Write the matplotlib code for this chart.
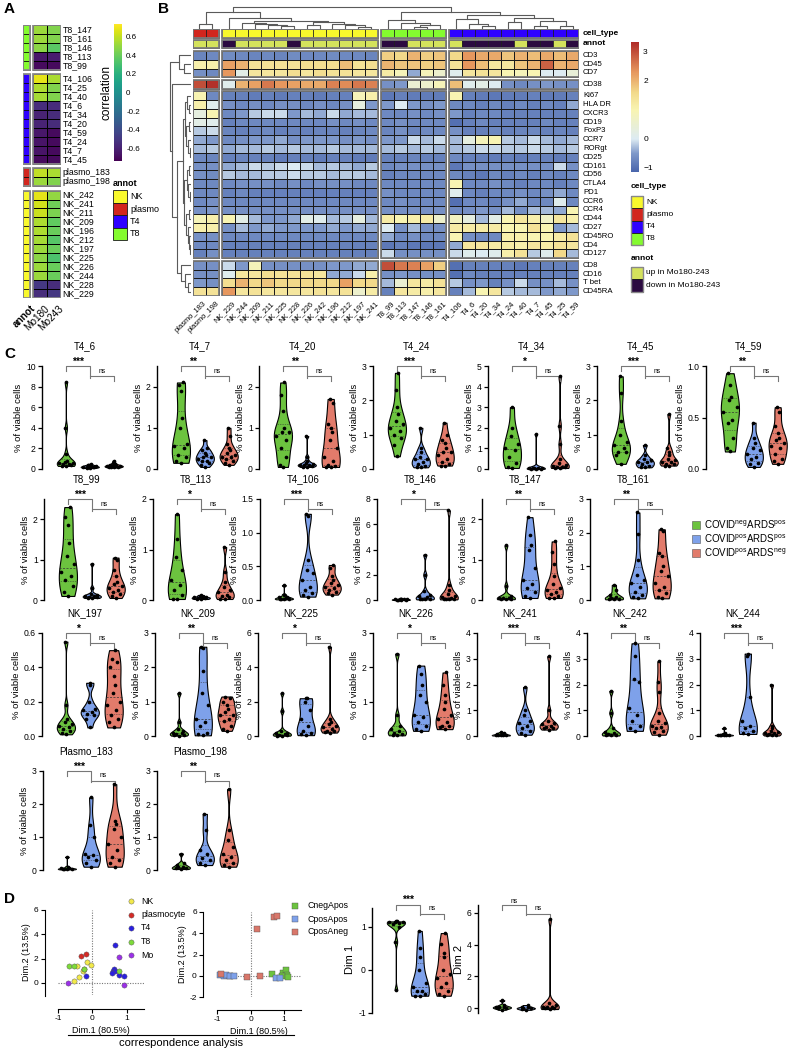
import numpy as np
import matplotlib
matplotlib.use("Agg")
import matplotlib.pyplot as plt
from matplotlib.colors import LinearSegmentedColormap
from matplotlib.patches import Rectangle

plt.rcParams['font.family'] = ['Liberation Sans', 'DejaVu Sans']

# ---------------- DATA ----------------
# Panel A
A_groups = [
    ['T8_147', 'T8_161', 'T8_146', 'T8_113', 'T8_99'],
    ['T4_106', 'T4_25', 'T4_40', 'T4_6', 'T4_34', 'T4_20', 'T4_59', 'T4_24', 'T4_7', 'T4_45'],
    ['plasmo_183', 'plasmo_198'],
    ['NK_242', 'NK_241', 'NK_211', 'NK_209', 'NK_196', 'NK_212', 'NK_197', 'NK_225', 'NK_226',
     'NK_244', 'NK_228', 'NK_229']]
A_group_type = ['T8', 'T4', 'plasmo', 'NK']
corr_mo180 = [0.52, 0.52, 0.48, -0.65, -0.70,
              0.68, 0.56, 0.54, -0.55, -0.60, -0.60, -0.65, -0.66, -0.66, -0.70,
              0.60, 0.52,
              0.68, 0.64, 0.62, 0.56, 0.56, 0.54, 0.52, 0.48, 0.52, 0.52, -0.50, -0.55]
corr_mo243 = [0.46, 0.46, 0.36, -0.62, -0.70,
              0.55, 0.46, 0.46, -0.55, -0.56, -0.56, -0.70, -0.70, -0.70, -0.70,
              0.55, 0.46,
              0.50, 0.42, 0.45, 0.38, 0.40, 0.35, 0.40, 0.32, 0.40, 0.40, -0.55, -0.50]
celltype_colors = {'NK': '#F8F82C', 'plasmo': '#D2261E', 'T4': '#2E00FF', 'T8': '#84FB2F'}
annot_colors = {'up': '#D4E25C', 'down': '#2B0A40'}

# Panel B
B_col_groups = [
    ['plasmo_183', 'plasmo_198'],
    ['NK_229', 'NK_244', 'NK_209', 'NK_211', 'NK_225', 'NK_228', 'NK_226', 'NK_242', 'NK_196',
     'NK_212', 'NK_197', 'NK_241'],
    ['T8_99', 'T8_113', 'T8_147', 'T8_146', 'T8_161'],
    ['T4_106', 'T4_6', 'T4_20', 'T4_34', 'T4_24', 'T4_40', 'T4_7', 'T4_45', 'T4_25', 'T4_59']]
B_col_types = ['plasmo', 'NK', 'T8', 'T4']
B_row_groups = [
    ['CD3', 'CD45', 'CD7'],
    ['CD38'],
    ['Ki67', 'HLA DR', 'CXCR3', 'CD19', 'FoxP3', 'CCR7', 'RORgt', 'CD25', 'CD161', 'CD56',
     'CTLA4', 'PD1', 'CCR6', 'CCR4', 'CD44', 'CD27', 'CD45RO', 'CD4', 'CD127'],
    ['CD8', 'CD16', 'T bet', 'CD45RA']]
expr_g1 = [
    [-0.75, -0.70, -0.65, -0.70, -0.75, -0.70, -0.75, -0.65, -0.70, -0.70, -0.65, -0.70, -0.70, -0.75, 1.70, 1.60, 2.00, 1.70, 1.80, 1.60, 2.30, 2.10, 2.10, 1.80, 2.00, 1.90, 2.10, 1.90, 2.10],
    [1.10, 1.10, 2.20, 2.00, 1.40, 1.40, 1.40, 1.40, 1.50, 1.50, 1.50, 1.90, 1.40, 1.50, 2.00, 1.80, 1.80, 1.70, 1.80, 1.40, 2.30, 1.90, 1.30, 1.30, 1.80, 2.00, 2.80, 2.00, 2.10],
    [-0.60, -0.70, 2.30, 0.20, 1.30, 1.30, 1.30, 1.50, 1.30, 1.50, 1.40, 1.40, 1.30, 1.30, 1.20, 0.90, -0.40, 0.90, 0.60, 0.10, 1.30, 1.40, 1.30, 1.00, 0.90, 1.00, 0.00, 0.00, 0.40]]
expr_cd38 = [
    [3.00, 3.30, 0.10, 2.00, 2.20, 2.60, 2.30, 2.20, 2.10, 2.10, 2.50, 2.40, 2.60, 2.50, -0.60, -0.50, 0.50, 0.60, 0.90, 1.90, 0.10, 0.20, 0.00, -0.60, -0.70, -0.60, -0.50, -0.60, -0.60]]
expr_g3 = [
    [1.00, -0.70, -0.80, -0.80, -0.85, -0.80, -0.85, -0.80, -0.80, -0.85, -0.80, -0.80, 0.90, 1.10, -0.90, -0.80, -0.85, -0.85, -0.85, 1.00, -0.80, -0.85, -0.90, -0.85, -0.85, -0.80, -0.85, -0.85, -0.80],
    [1.10, 0.10, -0.60, -0.70, -0.60, -0.70, -0.60, -0.60, -0.70, -0.60, -0.70, -0.60, 0.30, -0.50, -0.50, 0.00, -0.50, -0.60, -0.50, -0.70, -0.70, -0.80, -0.70, -0.80, -0.70, -0.80, -0.70, -0.80, -0.40],
    [0.30, 1.00, -0.70, -0.50, -0.20, -0.10, -0.10, -0.50, -0.30, -0.40, -0.10, -0.40, -0.30, -0.30, -0.70, -0.70, -0.60, -0.70, -0.60, -0.50, -0.80, -0.70, -0.70, -0.80, -0.80, -0.80, -0.80, -0.80, -0.80],
    [0.20, 0.10, -0.80, -0.70, -0.70, -0.70, -0.70, -0.70, -0.70, -0.70, -0.60, -0.70, -0.60, -0.70, -0.70, -0.60, -0.70, -0.70, -0.70, -1.00, -0.80, -0.70, -0.80, -0.80, -0.80, -0.80, -0.70, -0.80, -0.80],
    [-0.20, -0.10, -0.75, -0.80, -0.75, -0.70, -0.80, -0.75, -0.80, -0.75, -0.75, -0.80, -0.75, -0.70, -0.75, -0.60, -0.75, -0.70, -0.70, -0.60, -0.80, -0.80, -0.70, -0.80, -0.75, -0.70, -0.80, -0.75, -0.80],
    [-0.40, -0.50, -0.70, -0.60, -0.50, -0.50, -0.40, -0.60, -0.50, -0.50, -0.50, -0.60, -0.50, -0.60, -0.50, -0.50, -0.10, -0.30, -0.10, -0.30, 0.30, 0.90, 1.00, -0.20, -0.30, -0.10, -0.30, -0.40, -0.30],
    [-0.30, -0.20, -0.40, -0.30, -0.30, -0.20, -0.30, -0.20, -0.30, -0.30, -0.20, -0.30, -0.30, -0.30, -0.30, -0.20, -0.30, -0.20, -0.30, -0.30, -0.20, -0.10, -0.10, -0.20, -0.20, -0.10, -0.20, -0.30, -0.20],
    [-0.70, -0.75, -0.80, -0.75, -0.80, -0.80, -0.85, -0.80, -0.80, -0.85, -0.80, -0.80, -0.85, -0.85, -0.80, -0.80, -0.75, -0.80, -0.80, -0.70, -0.80, -0.80, -0.85, -0.80, -0.85, -0.80, -0.80, -0.85, -0.80],
    [-0.60, -0.60, -0.40, -0.30, -0.10, -0.20, -0.10, 0.00, -0.10, -0.30, -0.20, -0.30, -0.40, -0.20, -0.70, -0.60, -0.60, -0.60, -0.60, -0.90, -0.60, -0.60, -0.60, -0.60, -0.60, -0.60, -0.60, -0.10, -0.60],
    [-0.60, -0.65, -0.20, -0.30, -0.30, -0.20, -0.20, -0.10, -0.20, -0.20, -0.30, -0.20, -0.20, -0.30, -0.80, -0.70, -0.70, -0.70, -0.70, -0.70, -0.80, -0.90, -0.70, -0.80, -0.70, -0.80, -0.70, -0.80, -0.70],
    [-0.70, -0.70, -0.70, -0.60, -0.60, -0.60, -0.70, -0.60, -0.70, -0.60, -0.60, -0.60, -0.70, -0.70, -0.70, -0.70, -0.70, -0.70, -0.70, 1.00, -0.70, -0.70, -0.60, -0.70, -0.80, -0.70, -0.70, -0.80, -0.70],
    [-0.70, -0.70, -0.80, -0.70, -0.80, -0.80, -0.80, -0.80, -0.80, -0.80, -0.80, -0.80, -0.80, -0.80, -0.60, -0.70, -0.70, -0.70, -0.70, 0.10, -0.70, -0.80, -0.70, -0.70, -0.60, -0.70, -0.60, -0.40, -0.70],
    [-0.70, -0.60, -0.70, -0.70, -0.70, -0.70, -0.70, -0.70, -0.70, -0.70, -0.70, -0.70, -0.70, -0.70, -0.70, -0.60, -0.70, -0.70, -0.70, -1.00, -0.70, -0.70, -0.80, -0.60, -0.40, -0.70, -0.70, 0.10, -0.70],
    [-0.60, -0.50, -0.60, -0.60, -0.60, -0.60, -0.60, -0.60, -0.60, -0.60, -0.60, -0.60, -0.60, -0.60, -0.60, -0.60, -0.60, -0.60, -0.60, -0.70, -0.60, -0.50, -0.60, -0.30, -0.60, -0.30, -0.30, -0.40, 1.00],
    [0.90, 1.10, 1.00, 0.20, -0.30, -0.50, -0.50, -0.40, 0.20, 0.10, -0.30, -0.20, 0.30, -0.30, 1.20, 1.00, 1.10, 1.20, 0.60, 0.80, 0.30, -0.30, 0.20, 1.00, 1.30, 1.10, 0.70, 1.30, 1.10],
    [1.10, 1.10, -0.60, -0.30, -0.50, -0.40, -0.50, -0.50, -0.50, -0.50, -0.40, -0.50, -0.40, -0.40, 0.00, -0.60, -0.30, -0.60, -0.60, 1.20, 1.20, 1.20, 1.20, 1.00, 1.00, 1.40, 1.00, -0.50, -0.30],
    [-0.60, -0.60, -0.70, -0.70, -0.70, -0.70, -0.70, -0.70, -0.70, -0.70, -0.70, -0.70, -0.70, -0.70, -0.40, -0.70, -0.60, -0.70, -0.70, 1.00, -0.60, -0.70, -0.70, 1.10, 1.10, 1.00, 1.00, 1.20, 1.40],
    [-0.70, -0.70, -0.80, -0.80, -0.80, -0.80, -0.80, -0.80, -0.80, -0.80, -0.80, -0.80, -0.80, -0.80, -0.90, -0.80, -0.90, -0.90, -0.90, -0.40, 1.30, 1.30, 1.20, 1.20, 1.10, 1.30, 1.20, 1.40, 1.30],
    [-0.80, -0.60, -0.80, -0.80, -0.80, -0.80, -0.80, -0.80, -0.80, -0.80, -0.80, -0.80, -0.80, -0.80, -0.10, -0.60, -0.60, -0.60, -0.60, -0.10, 0.10, 0.00, 0.10, 1.10, 1.40, -0.20, 0.10, 1.60, -0.30]]
expr_g4 = [
    [-0.60, -0.60, -0.10, -0.50, 0.90, -0.60, -0.60, -0.60, -0.60, -0.60, -0.50, -0.50, -0.40, -0.40, 3.00, 2.60, 2.50, 2.20, 1.70, -1.00, -0.80, -0.80, -0.80, -0.80, -0.90, -0.80, -0.80, -0.80, -0.80],
    [-0.60, -0.60, 0.10, 1.30, 1.30, 1.50, 1.40, 1.40, 1.40, 1.30, -0.40, -0.40, -0.10, 1.10, -0.60, -0.50, -0.60, -0.60, -0.60, -1.00, -0.70, -0.80, -0.80, -0.80, -0.80, -0.80, -0.80, -0.80, -0.80],
    [-0.50, -0.60, 1.50, 2.00, 1.60, 1.80, 1.60, 1.60, 1.60, 1.60, 1.60, 2.20, 1.60, 1.60, -0.30, 0.50, 1.30, 1.20, 1.40, -0.20, -0.60, -0.50, -0.80, -0.60, -0.10, -0.60, -0.60, -0.30, -0.60],
    [1.40, 1.40, 2.30, 1.30, 1.40, 1.30, 1.30, 1.30, 1.30, 1.40, 1.30, 1.40, 0.60, 1.20, -0.80, 1.30, 1.20, 1.10, 1.30, -0.80, -0.30, 1.00, 1.30, -0.20, -0.30, -0.30, -0.50, -0.40, -0.50]]

# dendrograms: (height, left, right); leaves are column / row indices
col_tree = (22, (17, (5, 0, 1),
                 (11, 2, (8, (6, 3, (5, 4, (4, 5, (3, 6, 7)))),
                          (7, (4, 8, 9), (5, 10, (4, 11, (2.5, 12, 13))))))),
            (17, (9, 14, (6, 15, (4, (2.5, 16, 17), 18))),
             (14, (10, 19, (5, 20, (3, 21, 22))),
              (11, (7, 23, 24), (8, (3, 25, 26), (3, 27, 28))))))
row_tree = (21, (12, 0, (7, 1, 2)),
            (19, 3, (14,
                     (8, (6, (4, 4, (2, 5, 6)), (5, (2, 7, 8), (3, 9, (1.5, 10, 11)))),
                      (7, (4, (2, 12, 13), (3, 14, (1, 15, 16))),
                       (5, (2, 17, 18), (3, 19, (2, 20, (1, 21, 22)))))),
                     (10, 23, (6, 24, (3, 25, 26))))))

# Panel C
C_rows = [['T4_6', 'T4_7', 'T4_20', 'T4_24', 'T4_34', 'T4_45', 'T4_59'],
          ['T8_99', 'T8_113', 'T4_106', 'T8_146', 'T8_147', 'T8_161'],
          ['NK_197', 'NK_209', 'NK_225', 'NK_226', 'NK_241', 'NK_242', 'NK_244'],
          ['Plasmo_183', 'Plasmo_198']]
C_ymax = {'T4_6': 10, 'T4_7': 2.5, 'T4_20': 2.5, 'T4_24': 3, 'T4_34': 5, 'T4_45': 3, 'T4_59': 1.0,
          'T8_99': 2.5, 'T8_113': 2, 'T4_106': 1.5, 'T8_146': 8, 'T8_147': 2.5, 'T8_161': 3,
          'NK_197': 0.6, 'NK_209': 3, 'NK_225': 6, 'NK_226': 3, 'NK_241': 4, 'NK_242': 4, 'NK_244': 4,
          'Plasmo_183': 3, 'Plasmo_198': 3}
C_ticks = {'T4_6': [0, 2, 4, 6, 8, 10], 'T4_7': [0, 1, 2], 'T4_20': [0, 1, 2], 'T4_24': [0, 1, 2, 3],
           'T4_34': [0, 1, 2, 3, 4, 5], 'T4_45': [0, 1, 2, 3], 'T4_59': [0.0, 0.5, 1.0],
           'T8_99': [0, 1, 2], 'T8_113': [0, 1, 2], 'T4_106': [0.0, 0.5, 1.0, 1.5],
           'T8_146': [0, 2, 4, 6, 8], 'T8_147': [0, 1, 2], 'T8_161': [0, 1, 2, 3],
           'NK_197': [0.0, 0.2, 0.4, 0.6], 'NK_209': [0, 1, 2, 3], 'NK_225': [0, 2, 4, 6],
           'NK_226': [0, 1, 2, 3], 'NK_241': [0, 1, 2, 3, 4], 'NK_242': [0, 1, 2, 3, 4],
           'NK_244': [0, 1, 2, 3, 4], 'Plasmo_183': [0, 1, 2, 3], 'Plasmo_198': [0, 1, 2, 3]}
C_sig = {'T4_6': '***', 'T4_7': '**', 'T4_20': '**', 'T4_24': '***', 'T4_34': '*', 'T4_45': '***',
         'T4_59': '**', 'T8_99': '***', 'T8_113': '*', 'T4_106': '***', 'T8_146': '*', 'T8_147': '**',
         'T8_161': '**', 'NK_197': '*', 'NK_209': '**', 'NK_225': '*', 'NK_226': '*', 'NK_241': '***',
         'NK_242': '**', 'NK_244': '***', 'Plasmo_183': '***', 'Plasmo_198': '**'}
covid_neg_ards_pos = {
    'T4_6': [8.4, 4.0, 1.5, 0.8, 0.6, 0.5, 0.5, 0.4, 0.3, 0.3, 0.6, 0.7],
    'T4_7': [2.1, 2.05, 1.9, 1.25, 1.0, 0.6, 0.5, 0.35, 0.2, 0.15, 0.3, 0.55],
    'T4_20': [2.1, 1.8, 1.4, 1.0, 0.9, 0.8, 0.7, 0.5, 0.3, 0.1, 0.05, 0.9],
    'T4_24': [2.8, 2.3, 1.8, 1.6, 1.4, 1.3, 1.2, 1.1, 1.0, 0.9, 0.7, 0.37],
    'T4_34': [3.0, 2.0, 1.6, 1.2, 1.0, 0.9, 0.6, 0.3, 0.1, 0.05],
    'T4_45': [2.7, 2.2, 1.4, 1.0, 0.8, 0.7, 0.6, 0.5, 0.5, 0.4, 0.15],
    'T4_59': [0.93, 0.82, 0.7, 0.67, 0.6, 0.55, 0.48, 0.45, 0.3, 0.2, 0.17],
    'T8_99': [2.3, 2.05, 1.85, 1.4, 1.1, 0.9, 0.7, 0.6, 0.5, 0.35, 0.1, 0.2],
    'T8_113': [1.7, 1.2, 0.85, 0.6, 0.4, 0.3, 0.2, 0.1, 0.02, 0.02],
    'T4_106': [0.22, 0.08, 0.05, 0.03, 0.02, 0.02, 0.01, 0.01, 0.04],
    'T8_146': [0.08, 0.06, 0.05, 0.04, 0.03, 0.03, 0.02, 0.02, 0.05, 0.1],
    'T8_147': [1.35, 0.35, 0.1, 0.05, 0.05, 0.03, 0.02, 0.02, 0.04],
    'T8_161': [0.45, 0.3, 0.15, 0.1, 0.05, 0.03, 0.02, 0.02],
    'NK_197': [0.55, 0.18, 0.1, 0.08, 0.06, 0.05, 0.04, 0.03, 0.02, 0.01, 0.07],
    'NK_209': [1.25, 0.4, 0.2, 0.15, 0.1, 0.08, 0.05, 0.03, 0.01, 0.02],
    'NK_225': [2.5, 1.45, 0.3, 0.2, 0.15, 0.1, 0.05, 0.02, 0.02, 0.05],
    'NK_226': [2.4, 0.6, 0.3, 0.2, 0.15, 0.1, 0.05, 0.02, 0.02],
    'NK_241': [0.15, 0.1, 0.08, 0.05, 0.03, 0.02, 0.02, 0.04],
    'NK_242': [1.75, 0.9, 0.3, 0.15, 0.1, 0.08, 0.05, 0.03, 0.02],
    'NK_244': [0.3, 0.1, 0.05, 0.05, 0.03, 0.02, 0.02, 0.04],
    'Plasmo_183': [0.4, 0.1, 0.05, 0.05, 0.03, 0.02, 0.02, 0.04],
    'Plasmo_198': [0.5, 0.2, 0.15, 0.1, 0.08, 0.05, 0.05, 0.03]}
covid_pos_ards_pos = {
    'T4_6': [0.1, 0.2, 0.3, 0.4, 0.5, 0.2, 0.1, 0.3, 0.2, 0.15, 0.35, 0.25],
    'T4_7': [0.7, 0.5, 0.4, 0.35, 0.3, 0.25, 0.2, 0.15, 0.1, 0.05, 0.3, 0.2, 0.45],
    'T4_20': [0.8, 0.3, 0.2, 0.15, 0.1, 0.1, 0.08, 0.05, 0.05, 0.1, 0.12],
    'T4_24': [1.2, 0.6, 0.5, 0.35, 0.3, 0.2, 0.15, 0.1, 0.05, 0.05, 0.3],
    'T4_34': [1.7, 0.05, 0.05, 0.02, 0.02, 0.05, 0.03, 0.01, 0.04],
    'T4_45': [0.7, 0.4, 0.3, 0.25, 0.2, 0.15, 0.1, 0.05, 0.05, 0.2],
    'T4_59': [0.45, 0.3, 0.25, 0.2, 0.15, 0.12, 0.1, 0.06, 0.05, 0.02, 0.18],
    'T8_99': [0.9, 0.3, 0.15, 0.1, 0.08, 0.05, 0.05, 0.1, 0.12, 0.07],
    'T8_113': [0.1, 0.08, 0.05, 0.05, 0.03, 0.02, 0.02, 0.06, 0.04],
    'T4_106': [1.28, 1.25, 0.6, 0.45, 0.4, 0.3, 0.2, 0.15, 0.1, 0.05, 0.08],
    'T8_146': [3.6, 2.0, 0.7, 0.4, 0.3, 0.2, 0.1, 0.05, 0.05, 0.1],
    'T8_147': [2.05, 1.6, 1.35, 1.25, 0.8, 0.5, 0.4, 0.3, 0.2, 0.1, 0.05],
    'T8_161': [2.6, 1.95, 1.2, 0.75, 0.6, 0.5, 0.4, 0.25, 0.15, 0.1, 0.05],
    'NK_197': [0.31, 0.3, 0.2, 0.16, 0.14, 0.13, 0.12, 0.1, 0.05, 0.15],
    'NK_209': [2.55, 2.6, 1.9, 1.25, 0.9, 0.5, 0.4, 0.3, 0.1, 0.05, 0.02],
    'NK_225': [2.2, 2.2, 2.0, 1.5, 1.0, 0.6, 0.3, 0.2, 0.1, 0.05],
    'NK_226': [2.05, 1.8, 1.5, 1.2, 1.0, 0.6, 0.55, 0.4, 0.3, 0.2, 0.15],
    'NK_241': [1.9, 1.0, 0.8, 0.6, 0.5, 0.4, 0.3, 0.2, 0.1, 0.05],
    'NK_242': [3.6, 3.1, 2.2, 2.1, 1.1, 0.8, 0.6, 0.4, 0.3, 0.2],
    'NK_244': [3.2, 3.1, 1.5, 0.6, 0.4, 0.3, 0.2, 0.1, 0.08],
    'Plasmo_183': [2.2, 1.35, 1.0, 0.5, 0.45, 0.4, 0.3, 0.2, 0.1],
    'Plasmo_198': [1.7, 1.2, 0.6, 0.5, 0.35, 0.3, 0.2, 0.15]}
covid_pos_ards_neg = {
    'T4_6': [0.2, 0.3, 0.4, 0.5, 0.8, 0.3, 0.2, 0.25, 0.35, 0.4, 0.3, 0.2, 0.15, 0.6],
    'T4_7': [1.0, 0.8, 0.6, 0.45, 0.4, 0.35, 0.3, 0.3, 0.25, 0.2, 0.15, 0.1, 0.5],
    'T4_20': [1.7, 1.6, 1.1, 1.0, 0.9, 0.7, 0.5, 0.3, 0.2, 0.1, 0.05, 0.05, 0.08],
    'T4_24': [1.35, 1.0, 0.85, 0.75, 0.6, 0.5, 0.5, 0.4, 0.3, 0.2, 0.15, 0.1, 0.1],
    'T4_34': [4.5, 2.1, 1.2, 0.5, 0.3, 0.2, 0.1, 0.05, 0.05, 0.1, 0.15, 0.08],
    'T4_45': [1.6, 0.6, 0.5, 0.4, 0.3, 0.25, 0.2, 0.15, 0.1, 0.1, 0.15, 0.2],
    'T4_59': [0.6, 0.55, 0.42, 0.35, 0.3, 0.28, 0.25, 0.2, 0.15, 0.1, 0.08, 0.05, 0.22],
    'T8_99': [1.05, 1.0, 0.75, 0.6, 0.45, 0.4, 0.3, 0.25, 0.2, 0.15, 0.1, 0.05, 0.35],
    'T8_113': [1.05, 0.55, 0.35, 0.25, 0.2, 0.15, 0.1, 0.05, 0.02, 0.02, 0.08],
    'T4_106': [0.52, 0.48, 0.35, 0.3, 0.25, 0.2, 0.18, 0.15, 0.12, 0.1, 0.08, 0.22],
    'T8_146': [7.1, 1.2, 0.8, 0.5, 0.3, 0.2, 0.1, 0.05, 0.05, 0.1, 0.15],
    'T8_147': [1.45, 1.2, 0.9, 0.6, 0.4, 0.3, 0.25, 0.2, 0.15, 0.1, 0.05, 0.05],
    'T8_161': [2.1, 2.05, 1.4, 1.3, 1.0, 0.85, 0.7, 0.5, 0.4, 0.3, 0.2, 0.1, 0.05],
    'NK_197': [0.5, 0.45, 0.43, 0.4, 0.35, 0.3, 0.25, 0.2, 0.15, 0.12, 0.1, 0.08, 0.05, 0.18],
    'NK_209': [1.15, 1.1, 1.0, 0.9, 0.8, 0.7, 0.6, 0.5, 0.45, 0.3, 0.2, 0.15, 0.6],
    'NK_225': [5.2, 1.0, 0.8, 0.7, 0.6, 0.5, 0.4, 0.3, 0.25, 0.2, 0.3],
    'NK_226': [1.85, 1.5, 1.2, 1.0, 0.8, 0.6, 0.5, 0.4, 0.3, 0.25, 0.2, 0.3],
    'NK_241': [3.1, 1.0, 0.6, 0.5, 0.45, 0.4, 0.35, 0.3, 0.25, 0.3],
    'NK_242': [2.9, 2.1, 1.7, 0.9, 0.6, 0.5, 0.4, 0.35, 0.3, 0.2, 0.15, 0.05],
    'NK_244': [2.0, 0.4, 0.3, 0.2, 0.15, 0.1, 0.08, 0.05, 0.05, 0.1, 0.02],
    'Plasmo_183': [2.6, 1.5, 1.4, 1.25, 1.0, 0.8, 0.6, 0.4, 0.3, 0.2, 0.1],
    'Plasmo_198': [2.45, 1.2, 0.9, 0.7, 0.5, 0.4, 0.3, 0.2, 0.15, 0.1]}
group_colors = ['#6CC33F', '#7EA1EA', '#E27B6B']
group_labels = [r'COVID$^{\mathregular{neg}}$ARDS$^{\mathregular{pos}}$',
                r'COVID$^{\mathregular{pos}}$ARDS$^{\mathregular{pos}}$',
                r'COVID$^{\mathregular{pos}}$ARDS$^{\mathregular{neg}}$']

# Panel D - correspondence analysis
ca_labels = ['NK', 'plasmocyte', 'T4', 'T8', 'Mo']
ca_colors = ['#F2E94A', '#D42B26', '#2A1FE0', '#7DDB3A', '#9B30E8']
ca_dim1 = {'NK': [-0.15, -0.05, -0.26, -0.24, -0.39, -0.53, -0.45],
           'plasmocyte': [-0.33, -0.19],
           'T4': [-0.18, 0.66, 0.60, 0.63, 0.66, 0.58, 0.78, 0.92],
           'T8': [-0.67, -0.53, -0.25, 0.76],
           'Mo': [-0.72, 0.78, 0.93]}
ca_dim2 = {'NK': [1.70, 1.50, 0.95, 1.10, 0.46, 0.14, 1.36],
           'plasmocyte': [2.20, 2.40],
           'T4': [0.57, 3.10, 1.00, 1.10, 1.00, 0.80, 0.68, 0.55],
           'T8': [1.36, 1.36, 1.10, 0.95],
           'Mo': [-0.03, 2.10, -0.15]}
cond_labels = ['CnegApos', 'CposApos', 'CposAneg']
cond_colors = ['#6CC33F', '#7EA1EA', '#D9776A']
cond_dim1 = {'CnegApos': [0.64, 0.97, 1.04, 1.09, 0.94, -0.60, 1.10],
             'CposApos': [-0.90, -0.80, -0.72, -0.60, -0.50, 0.75, 0.87],
             'CposAneg': [0.18, 0.69, 0.79, -0.10, 0.28, -0.87]}
cond_dim2 = {'CnegApos': [0.20, 0.30, 0.55, 0.05, -0.05, 0.00, -0.10],
             'CposApos': [0.05, 0.00, 0.05, 0.00, 0.02, -0.20, -0.25],
             'CposAneg': [4.40, 5.50, 5.60, -0.10, -0.05, 0.15]}
dim1_groups = [[1.12, 1.10, 1.10, 1.08, 1.05, 1.10, 1.12, 1.00, 0.65, -0.47],
               [0.90, 0.50, 0.30, 0.00, -0.30, -0.40, -0.50, -0.55, -0.60, -0.60, -0.50],
               [0.85, 0.60, 0.30, 0.00, -0.20, -0.30, -0.40, -0.50, -0.55, -0.60, 0.40, -0.10]]
dim2_groups = [[0.50, 0.20, 0.10, 0.05, 0.00, 0.00, 0.10, -0.10],
               [0.20, 0.10, 0.00, -0.05, -0.10, 0.05, 0.00],
               [5.60, 0.30, 0.20, 0.10, 0.00, 0.05, -0.05, 0.00, 0.10]]

# ---------------- FIGURE ----------------
W, H = 790, 1049
fig = plt.figure(figsize=(W / 100, H / 100), dpi=100)


def axpx(x0, y0, x1, y1):
    return fig.add_axes([x0 / W, 1 - y1 / H, (x1 - x0) / W, (y1 - y0) / H])


# ---- Panel A ----
axA = axpx(23, 25, 61, 298)
norm_corr = plt.Normalize(-0.74, 0.74)
y0 = 0.0
k = 0
gapA = 0.5
for gi, names in enumerate(A_groups):
    n = len(names)
    vals = np.column_stack([corr_mo180[k:k + n], corr_mo243[k:k + n]])
    yed = y0 + np.arange(n + 1)
    axA.pcolormesh([0.7, 1.7, 2.7], yed, vals, cmap='viridis', norm=norm_corr,
                   edgecolors='black', linewidth=0.5)
    for i in range(n):
        axA.add_patch(Rectangle((0, y0 + i), 0.5, 1, facecolor=celltype_colors[A_group_type[gi]],
                                edgecolor='black', lw=0.5))
        axA.text(2.82, y0 + i + 0.5, names[i], va='center', ha='left', fontsize=6.3)
    axA.add_patch(Rectangle((0, y0), 0.5, n, fill=False, ec='#8a8a8a', lw=1.3))
    axA.add_patch(Rectangle((0.7, y0), 2.0, n, fill=False, ec='#8a8a8a', lw=1.3))
    y0 += n + gapA
    k += n
A_total = y0 - gapA
axA.set_xlim(0, 2.7)
axA.set_ylim(A_total, 0)
axA.axis('off')
for xc, lab, bold in [(0.25, 'annot', True), (1.2, 'Mo180', False), (2.2, 'Mo243', False)]:
    axA.text(xc + 0.3, A_total + 0.6, lab, rotation=45, ha='right', va='top', rotation_mode='anchor',
             fontsize=7.2, fontweight='bold' if bold else 'normal')

caxA = axpx(114, 24, 122, 161)
cbA = fig.colorbar(plt.cm.ScalarMappable(norm=norm_corr, cmap='viridis'), cax=caxA,
                   ticks=[0.6, 0.4, 0.2, 0, -0.2, -0.4, -0.6])
cbA.outline.set_visible(False)
cbA.ax.tick_params(length=0, labelsize=5.8, pad=3)
cbA.ax.set_yticklabels(['0.6', '0.4', '0.2', '0', '-0.2', '-0.4', '-0.6'])

# ---- Panel B ----
vminB, vmaxB = -1.14, 3.34
cm_vals = [-1.14, -0.5, 0.0, 1.0, 1.6, 2.3, 3.34]
cm_cols = ['#4A66AC', '#7F99CA', '#DDEBF2', '#F8F4B2', '#F2D98A', '#E6975E', '#B02C28']
cmapB = LinearSegmentedColormap.from_list(
    'rdylbu_muted', [((v - vminB) / (vmaxB - vminB), c) for v, c in zip(cm_vals, cm_cols)])
normB = plt.Normalize(vminB, vmaxB)
gapx = 0.25
col_x = []
xx = 0.0
for g in B_col_groups:
    col_x.append(xx)
    xx += len(g) + gapx
B_width = xx - gapx
all_cols = [c for g in B_col_groups for c in g]
col_type = [B_col_types[i] for i, g in enumerate(B_col_groups) for _ in g]
corr_lookup = {}
kk = 0
for names in A_groups:
    for nm in names:
        corr_lookup[nm] = corr_mo180[kk]
        kk += 1
col_annot = ['up' if corr_lookup[c] > 0 else 'down' for c in all_cols]

row_blocks = [expr_g1, expr_cd38, expr_g3, expr_g4]
gapy = 0.3
row_y = []
yy = 2.5
for blk in row_blocks:
    row_y.append(yy)
    yy += len(blk) + gapy
B_height = yy - gapy

axB = axpx(193, 29, 579, 296)
for bi, blk in enumerate(row_blocks):
    arr = np.array(blk)
    start = 0
    for gi, g in enumerate(B_col_groups):
        n = len(g)
        xe = col_x[gi] + np.arange(n + 1)
        ye = row_y[bi] + np.arange(arr.shape[0] + 1)
        axB.pcolormesh(xe, ye, arr[:, start:start + n], cmap=cmapB, norm=normB,
                       edgecolors='#1a1a1a', linewidth=0.5)
        axB.add_patch(Rectangle((col_x[gi], row_y[bi]), n, arr.shape[0], fill=False, ec='#7a7a7a', lw=1.3))
        start += n
ci = 0
for gi, g in enumerate(B_col_groups):
    for j in range(len(g)):
        xpos = col_x[gi] + j
        axB.add_patch(Rectangle((xpos, 0), 1, 1, facecolor=celltype_colors[col_type[ci]], ec='#1a1a1a', lw=0.5))
        axB.add_patch(Rectangle((xpos, 1.2), 1, 1, facecolor=annot_colors[col_annot[ci]], ec='#1a1a1a', lw=0.5))
        axB.text(xpos + 0.75, B_height + 0.45, all_cols[ci], rotation=45, ha='right', va='top',
                 rotation_mode='anchor', fontsize=5.4)
        ci += 1
    axB.add_patch(Rectangle((col_x[gi], 0), len(g), 1, fill=False, ec='#7a7a7a', lw=1.3))
    axB.add_patch(Rectangle((col_x[gi], 1.2), len(g), 1, fill=False, ec='#7a7a7a', lw=1.3))
for bi, names in enumerate(B_row_groups):
    for i, nm in enumerate(names):
        axB.text(B_width + 0.3, row_y[bi] + i + 0.5, nm, va='center', ha='left', fontsize=5.6)
axB.text(B_width + 0.3, 0.5, 'cell_type', va='center', ha='left', fontsize=6, fontweight='bold')
axB.text(B_width + 0.3, 1.7, 'annot', va='center', ha='left', fontsize=6, fontweight='bold')
axB.set_xlim(0, B_width)
axB.set_ylim(B_height, 0)
axB.axis('off')

leaf_x = [col_x[gi] + j + 0.5 for gi, g in enumerate(B_col_groups) for j in range(len(g))]
leaf_y = [row_y[bi] + i + 0.5 for bi, blk in enumerate(row_blocks) for i in range(len(blk))]


def draw_tree(ax, node, leafpos, vertical):
    if isinstance(node, int):
        return leafpos[node], 0.0
    h, l, r = node
    pl, hl = draw_tree(ax, l, leafpos, vertical)
    pr, hr = draw_tree(ax, r, leafpos, vertical)
    a = [pl, pl, pr, pr]
    b = [hl, h, h, hr]
    if vertical:
        ax.plot(a, b, color='#5a5a5a', lw=0.8)
    else:
        ax.plot(b, a, color='#5a5a5a', lw=0.8)
    return (pl + pr) / 2, h


axDc = axpx(193, 3, 579, 29)
draw_tree(axDc, col_tree, leaf_x, True)
axDc.set_xlim(0, B_width)
axDc.set_ylim(0, 26)
axDc.axis('off')
axDr = axpx(150, 29, 191, 296)
draw_tree(axDr, row_tree, leaf_y, False)
axDr.set_ylim(B_height, 0)
axDr.set_xlim(41, 0)
axDr.axis('off')

caxB = axpx(631, 42, 639, 172)
cbB = fig.colorbar(plt.cm.ScalarMappable(norm=normB, cmap=cmapB), cax=caxB, ticks=[3, 2, 0, -1])
cbB.outline.set_visible(False)
cbB.ax.tick_params(length=0, labelsize=6, pad=3)


# ---- Panel C ----
def violin(ax, pos, vals, color, halfw=0.38):
    v = np.sort(np.asarray(vals, float))
    lo, hi = v[0], v[-1]
    n = len(v)
    sd = v.std(ddof=1)
    iqr = np.percentile(v, 75) - np.percentile(v, 25)
    s = min(sd, iqr / 1.34) if iqr > 0 else sd
    bw = max(0.9 * s * n ** -0.2, 0.05 * (hi - lo) + 1e-4)
    ys = np.linspace(lo, hi, 150)
    d = np.exp(-0.5 * ((ys[:, None] - v[None, :]) / bw) ** 2).sum(1)
    w = d / d.max() * halfw
    ax.fill_betweenx(ys, pos - w, pos + w, facecolor=color, edgecolor='black', linewidth=0.8, zorder=2)
    for q, ls in [(50, (0, (3, 2))), (25, (0, (1, 1.5))), (75, (0, (1, 1.5)))]:
        yq = np.percentile(v, q)
        wq = np.interp(yq, ys, w)
        ax.plot([pos - wq, pos + wq], [yq, yq], color='#333333', lw=0.5, ls=ls, zorder=2.5)
    offs = np.array([0, -0.55, 0.55, -0.3, 0.3, -0.75, 0.75, -0.15, 0.15])
    wi = np.interp(v, ys, w)
    xo = pos + offs[np.arange(n) % len(offs)] * wi
    ax.scatter(xo, v, s=7, color='black', zorder=3, linewidths=0, clip_on=False)


def sig_brackets(ax, ymax, s1, s2, big1=True, big2=False):
    kw = dict(color='#777777', lw=0.8, clip_on=False)
    y1 = ymax
    y2 = ymax * 0.9
    ax.plot([1, 1, 2, 2], [y1 - 0.05 * ymax, y1, y1, y2], **kw)
    ax.plot([2, 2, 3, 3], [y2 - 0.015 * ymax, y2, y2, y2 - 0.05 * ymax], **kw)
    ax.text(1.5, y1 - 0.005 * ymax, s1, ha='center', va='bottom', fontsize=7.5 if big1 else 4.8,
            fontweight='bold' if big1 else 'normal')
    ax.text(2.5, y2 + 0.015 * ymax, s2, ha='center', va='bottom', fontsize=7.5 if big2 else 4.8,
            fontweight='bold' if big2 else 'normal')


def style_axis(ax, ymax, ticks, ymin=0):
    for sp in ['top', 'right', 'bottom']:
        ax.spines[sp].set_visible(False)
    ax.spines['left'].set_linewidth(1.0)
    ax.spines['left'].set_bounds(ymin, ymax)
    ax.set_xticks([])
    ax.set_yticks(ticks)
    if all(float(t).is_integer() for t in ticks):
        ax.set_yticklabels(['%d' % t for t in ticks])
    else:
        ax.set_yticklabels(['%.1f' % t for t in ticks])
    ax.tick_params(axis='y', labelsize=6.2, length=3, width=0.9, pad=1.5)
    ax.patch.set_visible(False)


C_lefts = [[42, 157, 259, 373, 488, 597, 706],
           [44, 153, 260, 377, 482, 590],
           [42, 155, 258, 373, 477, 587, 700],
           [43, 157]]
C_tops = [366, 499, 633, 771]
C_bottoms = [469, 600, 736, 870]
for ri, names in enumerate(C_rows):
    for ci_, nm in enumerate(names):
        left = C_lefts[ri][ci_]
        ax = axpx(left, C_tops[ri], left + 86, C_bottoms[ri])
        ymax = C_ymax[nm]
        for gi, dset in enumerate([covid_neg_ards_pos, covid_pos_ards_pos, covid_pos_ards_neg]):
            violin(ax, gi + 1, dset[nm], group_colors[gi])
        ax.set_xlim(0, 3.6)
        ax.set_ylim(0, ymax)
        style_axis(ax, ymax, C_ticks[nm])
        sig_brackets(ax, ymax, C_sig[nm], 'ns')
        ax.set_title(nm, fontsize=7, pad=12)
        ax.set_ylabel('% of viable cells', fontsize=6.8, labelpad=2)


# ---- Panel D: correspondence analysis ----
def ca_axes(box, xb, yb, yticks, out_l, out_b):
    ax = axpx(*box)
    for sp in ['top', 'right']:
        ax.spines[sp].set_visible(False)
    ax.spines['left'].set_position(('outward', out_l))
    ax.spines['bottom'].set_position(('outward', out_b))
    ax.spines['left'].set_bounds(*yb)
    ax.spines['bottom'].set_bounds(*xb)
    ax.set_xticks([-1, 0, 1])
    ax.set_xticklabels(['-1', '0', '1'])
    ax.set_yticks(yticks)
    ax.set_yticklabels(['%d' % t for t in yticks])
    ax.tick_params(labelsize=6, length=3, width=0.8, pad=1.5)
    ax.axhline(0, color='#777777', lw=0.8, ls=(0, (1, 1.3)), zorder=0)
    ax.axvline(0, color='#777777', lw=0.8, ls=(0, (1, 1.3)), zorder=0)
    ax.set_xlabel('Dim.1 (80.5%)', fontsize=6.5, labelpad=3)
    ax.set_ylabel('Dim.2 (13.5%)', fontsize=6.5, labelpad=2)
    ax.patch.set_visible(False)
    return ax


axS1 = ca_axes((58, 910, 144, 995), (-1, 1.5), (-1.1, 6), [0, 2, 4, 6], 9.4, 10)
for lab, col in zip(ca_labels, ca_colors):
    axS1.scatter(ca_dim1[lab], ca_dim2[lab], s=14, color=col, edgecolors='#555555', linewidths=0.3,
                 zorder=3, clip_on=False)
axS1.set_xlim(-1, 1.5)
axS1.set_ylim(-1, 6)

axS2 = ca_axes((217, 912, 301, 997), (-1, 1.5), (-2, 6), [-2, 0, 2, 4, 6], 10, 9)
for lab, col in zip(cond_labels, cond_colors):
    axS2.scatter(cond_dim1[lab], cond_dim2[lab], s=13, marker='s', color=col, edgecolors='#555555',
                 linewidths=0.3, zorder=3, clip_on=False)
axS2.set_xlim(-1, 1.5)
axS2.set_ylim(-2, 6)

for (box, data, ymin, ymax, ticks, lab, s1, s2, b1) in [
        ((372, 905, 458, 1013), dim1_groups, -1, 1.5, [-1, 0, 1], 'Dim 1', '***', 'ns', True),
        ((478, 905, 564, 1013), dim2_groups, -0.3, 6.5, [0, 2, 4, 6], 'Dim 2', 'ns', 'ns', False)]:
    ax = axpx(*box)
    for gi in range(3):
        violin(ax, gi + 1, data[gi], group_colors[gi])
    ax.set_xlim(0, 3.6)
    ax.set_ylim(ymin, ymax)
    style_axis(ax, ymax * 0.95 if ymin < 0 and ymax < 2 else ymax, ticks, ymin=ymin)
    kw = dict(color='#777777', lw=0.8, clip_on=False)
    span = ymax - ymin
    y1 = ymax
    y2 = ymax - 0.08 * span
    ax.plot([1, 1, 2, 2], [y1 - 0.05 * span, y1, y1, y2], **kw)
    ax.plot([2, 2, 3, 3], [y2 - 0.015 * span, y2, y2, y2 - 0.05 * span], **kw)
    ax.text(1.5, y1, s1, ha='center', va='bottom', fontsize=7.5 if b1 else 4.8,
            fontweight='bold' if b1 else 'normal')
    ax.text(2.5, y2 + 0.015 * span, s2, ha='center', va='bottom', fontsize=4.8)
    ax.set_ylabel(lab, fontsize=8, labelpad=2)

# ---- overlay: letters, legends, labels ----
ov = fig.add_axes([0, 0, 1, 1])
ov.set_xlim(0, W)
ov.set_ylim(H, 0)
ov.axis('off')
ov.patch.set_visible(False)
for x, y, t in [(4, 9, 'A'), (158, 9, 'B'), (4, 354, 'C'), (4, 899, 'D')]:
    ov.text(x, y, t, fontsize=11, fontweight='bold', va='center', ha='left')
ov.text(106, 92, 'correlation', rotation=90, ha='center', va='center', fontsize=8.5)
ov.text(113, 183, 'annot', fontsize=6.5, fontweight='bold', va='center')
for i, lab in enumerate(['NK', 'plasmo', 'T4', 'T8']):
    ov.add_patch(Rectangle((113, 190 + i * 12.5), 14, 12.5, facecolor=celltype_colors[lab], ec='#1a1a1a', lw=0.6))
    ov.text(130, 196.5 + i * 12.5, lab, fontsize=6.5, va='center')
ov.text(631, 187, 'cell_type', fontsize=6, fontweight='bold', va='center')
for i, lab in enumerate(['NK', 'plasmo', 'T4', 'T8']):
    ov.add_patch(Rectangle((631, 196 + i * 12.3), 12, 12.3, facecolor=celltype_colors[lab], ec='#1a1a1a', lw=0.6))
    ov.text(646, 202 + i * 12.3, lab, fontsize=6, va='center')
ov.add_patch(Rectangle((631, 196), 12, 49.2, fill=False, ec='#888888', lw=1))
ov.text(631, 258, 'annot', fontsize=6, fontweight='bold', va='center')
for i, (key, lab) in enumerate([('up', 'up in Mo180-243'), ('down', 'down in Mo180-243')]):
    ov.add_patch(Rectangle((631, 267 + i * 12.3), 12, 12.3, facecolor=annot_colors[key], ec='#1a1a1a', lw=0.6))
    ov.text(646, 273 + i * 12.3, lab, fontsize=6, va='center')
ov.add_patch(Rectangle((631, 267), 12, 24.6, fill=False, ec='#888888', lw=1))
for i in range(3):
    ov.add_patch(Rectangle((692, 521 + i * 14), 8, 8, facecolor=group_colors[i], ec='#555555', lw=0.4))
    ov.text(704, 525 + i * 14, group_labels[i], fontsize=7, va='center')
for i, lab in enumerate(ca_labels):
    ov.scatter([131], [901 + i * 13.5], s=14, color=ca_colors[i], edgecolors='#555555', linewidths=0.3)
    ov.text(141, 901 + i * 13.5, lab, fontsize=6.3, va='center')
for i, lab in enumerate(cond_labels):
    ov.scatter([295], [906 + i * 13], s=13, marker='s', color=cond_colors[i], edgecolors='#555555', linewidths=0.3)
    ov.text(307, 906 + i * 13, lab, fontsize=6.3, va='center')
ov.plot([68, 294], [1035, 1035], color='black', lw=0.8)
ov.text(181, 1043, 'correspondence analysis', fontsize=8, ha='center', va='center')

fig.savefig('out.png', dpi=100)
